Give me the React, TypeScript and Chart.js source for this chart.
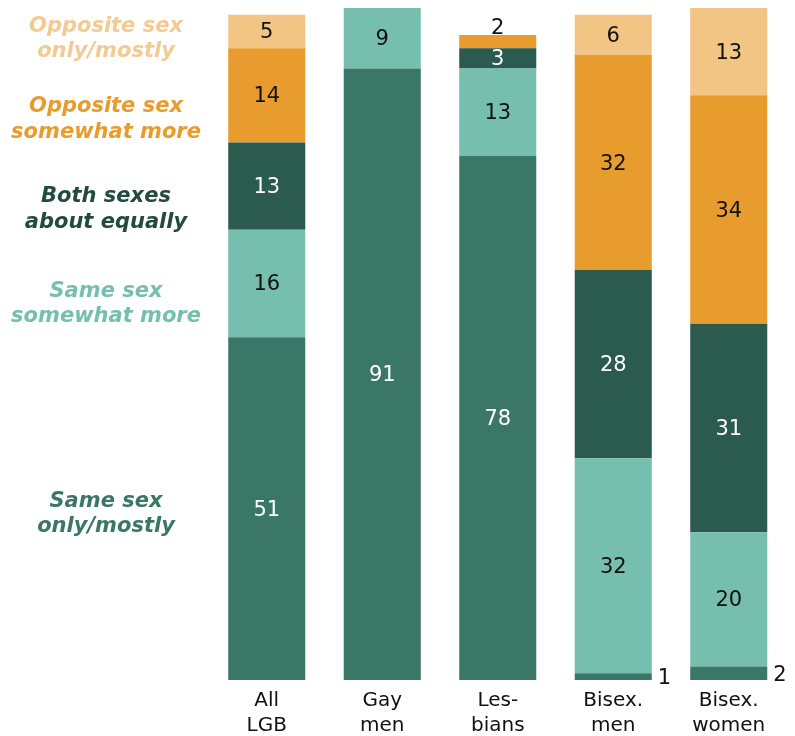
import React, { useEffect, useRef } from "react";
import { Chart, registerables } from "chart.js";

Chart.register(...registerables);

const categories: string[][] = [["All", "LGB"], ["Gay", "men"], ["Les-", "bians"], ["Bisex.", "men"], ["Bisex.", "women"]];

const sameOnly = [51, 91, 78, 1, 2];
const sameMore = [16, 9, 13, 32, 20];
const bothEqual = [13, 0, 3, 28, 31];
const oppMore = [14, 0, 2, 32, 34];
const oppOnly = [5, 0, 0, 6, 13];

const seriesNames: string[][] = [
  ["Same sex", "only/mostly"],
  ["Same sex", "somewhat more"],
  ["Both sexes", "about equally"],
  ["Opposite sex", "somewhat more"],
  ["Opposite sex", "only/mostly"],
];

const COLORS = ["#3a7767", "#76bfae", "#2b5a4f", "#e89c2e", "#f2c584"];
const LABEL_COLORS = ["#ffffff", "#111111", "#ffffff", "#111111", "#111111"];
const LEGEND_COLORS = ["#3a7767", "#76bfae", "#234a40", "#e89c2e", "#f3cb92"];

const FONT = "'DejaVu Sans', Verdana, sans-serif";

const labelPlugin = {
  id: "segLabels",
  afterDatasetsDraw(chart: any) {
    const ctx = chart.ctx;
    const yScale = chart.scales.y;
    ctx.save();
    ctx.font = `21px ${FONT}`;
    chart.data.datasets.forEach((ds: any, i: number) => {
      const meta = chart.getDatasetMeta(i);
      meta.data.forEach((bar: any, j: number) => {
        const v = ds.data[j];
        if (!v || v <= 0) return;
        const { x, y, base, width } = bar.getProps(["x", "y", "base", "width"], true);
        if (v >= 3) {
          ctx.fillStyle = LABEL_COLORS[i];
          ctx.textAlign = "center";
          ctx.textBaseline = "middle";
          ctx.fillText(String(v), x, (y + base) / 2 + 1.5);
        } else if (i === 0) {
          ctx.fillStyle = "#111111";
          ctx.textAlign = "left";
          ctx.textBaseline = "middle";
          ctx.fillText(String(v), x + width / 2 + 6, (y + base) / 2 + 2);
        } else {
          ctx.fillStyle = "#111111";
          ctx.textAlign = "center";
          ctx.textBaseline = "alphabetic";
          ctx.fillText(String(v), x, y - 1);
        }
      });
    });

    // side legend aligned with the first bar's segments
    const offsets = [-2, 13, 16, 17, 0];
    ctx.font = `italic bold 21px ${FONT}`;
    ctx.textAlign = "center";
    ctx.textBaseline = "alphabetic";
    let cum = 0;
    const first = [sameOnly[0], sameMore[0], bothEqual[0], oppMore[0], oppOnly[0]];
    first.forEach((v, i) => {
      const mid = cum + v / 2;
      cum += v;
      const yy = yScale.getPixelForValue(mid) + offsets[i];
      ctx.fillStyle = LEGEND_COLORS[i];
      const lines = seriesNames[i];
      lines.forEach((ln, k) => ctx.fillText(ln, 106, yy + k * 25.5));
    });
    ctx.restore();
  },
};

export default function App() {
  const ref = useRef<HTMLCanvasElement | null>(null);
  useEffect(() => {
    if (!ref.current) return;
    const allData = [sameOnly, sameMore, bothEqual, oppMore, oppOnly];
    const chart = new Chart(ref.current, {
      type: "bar",
      data: {
        labels: categories as any,
        datasets: allData.map((d, i) => ({
          label: seriesNames[i].join(" "),
          data: d,
          backgroundColor: COLORS[i],
          borderWidth: 0,
          barPercentage: 0.667,
          categoryPercentage: 1,
        })),
      },
      options: {
        animation: false,
        responsive: false,
        devicePixelRatio: 1,
        layout: { padding: { left: 209, right: 8.5, top: 8, bottom: 0 } },
        plugins: { legend: { display: false }, tooltip: { enabled: false } },
        scales: {
          x: {
            stacked: true,
            grid: { display: false, drawTicks: false },
            border: { display: false },
            ticks: {
              color: "#111111",
              font: { family: FONT, size: 20, lineHeight: 1.25 },
              padding: 8,
              maxRotation: 0,
              autoSkip: false,
            },
            afterFit(scale: any) {
              scale.height = 56;
            },
          },
          y: {
            stacked: true,
            display: false,
            min: 0,
            max: 100,
          },
        },
      },
      plugins: [labelPlugin],
    });
    return () => chart.destroy();
  }, []);
  return (
    <div style={{ position: "fixed", left: 0, top: 0, width: 795, height: 736, background: "#fff" }}>
      <canvas ref={ref} width={795} height={736} style={{ width: 795, height: 736 }} />
    </div>
  );
}
